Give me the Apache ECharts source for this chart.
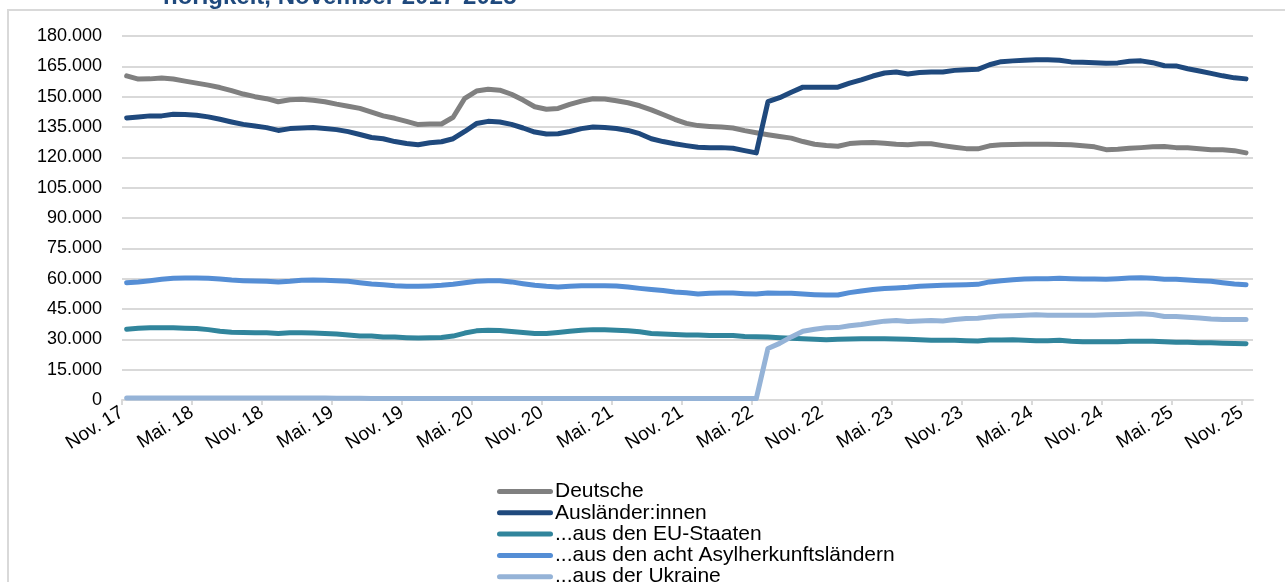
<!DOCTYPE html>
<html lang="de">
<head>
<meta charset="utf-8">
<title>Arbeitslose nach Staatsangehörigkeit</title>
<script src="https://cdn.jsdelivr.net/npm/echarts@6.0.0/dist/echarts.min.js"></script>
<style>
  html, body { margin: 0; padding: 0; background: #fff; }
  #chart { width: 1285px; height: 582px; }
</style>
</head>
<body>
<div id="chart"></div>
<script>
// Monatswerte Nov. 2017 - Nov. 2025 (97 Monate)
var tickLabels = ["Nov. 17", "Mai. 18", "Nov. 18", "Mai. 19", "Nov. 19", "Mai. 20", "Nov. 20", "Mai. 21",
  "Nov. 21", "Mai. 22", "Nov. 22", "Mai. 23", "Nov. 23", "Mai. 24", "Nov. 24", "Mai. 25", "Nov. 25"];

var deutsche = [160300, 158700, 158800, 159200, 158700, 157700, 156700, 155700, 154500, 153000,
  151300, 150000, 149000, 147500, 148500, 148700, 148200, 147500, 146300, 145300,
  144200, 142300, 140500, 139300, 137800, 136200, 136500, 136500, 139800, 149200,
  152800, 153700, 153200, 151200, 148300, 145000, 143800, 144200, 146200, 147800,
  149000, 148800, 148000, 147000, 145500, 143500, 141200, 138800, 136800, 135700,
  135300, 135000, 134500, 133200, 132200, 131200, 130300, 129500, 127800, 126500,
  125800, 125500, 126800, 127200, 127300, 127000, 126500, 126200, 126700, 126700,
  125800, 125000, 124300, 124200, 125700, 126200, 126300, 126500, 126500, 126500,
  126300, 126200, 125700, 125200, 123800, 124000, 124500, 124800, 125200, 125300,
  124800, 124700, 124300, 123800, 123700, 123300, 122200];

var auslaender = [139500, 140000, 140500, 140500, 141300, 141200, 140800, 140000, 138800, 137500,
  136300, 135500, 134700, 133300, 134200, 134500, 134800, 134300, 133700, 132700,
  131300, 129800, 129200, 127800, 126800, 126200, 127200, 127700, 129200, 132800,
  136700, 137800, 137500, 136300, 134500, 132500, 131500, 131700, 132800, 134200,
  135000, 134800, 134300, 133300, 131700, 129200, 127800, 126700, 125800, 125000,
  124800, 124800, 124500, 123300, 122200, 147500, 149500, 152200, 154700, 154700,
  154700, 154700, 156700, 158300, 160200, 161700, 162200, 161200, 162000, 162200,
  162200, 163000, 163300, 163500, 165800, 167300, 167700, 168000, 168300, 168200,
  168000, 167200, 167000, 166800, 166500, 166700, 167500, 167700, 166800, 165300,
  165200, 163800, 162700, 161500, 160300, 159300, 158800];

var euStaaten = [35000, 35500, 35700, 35700, 35700, 35500, 35300, 34800, 34000, 33500,
  33400, 33200, 33200, 32900, 33200, 33200, 33100, 32900, 32600, 32100,
  31700, 31600, 31200, 31100, 30800, 30600, 30800, 30900, 31600, 33100,
  34200, 34500, 34400, 33900, 33400, 32900, 32900, 33400, 34000, 34500,
  34800, 34700, 34500, 34200, 33700, 32900, 32600, 32400, 32200, 32100,
  31900, 31900, 31900, 31400, 31300, 31100, 30800, 30500, 30300, 30000,
  29800, 30000, 30200, 30300, 30300, 30300, 30200, 30000, 29800, 29500,
  29500, 29500, 29300, 29200, 29700, 29700, 29800, 29500, 29300, 29300,
  29500, 29000, 28800, 28800, 28800, 28800, 29000, 29000, 29000, 28800,
  28600, 28500, 28300, 28300, 28100, 28000, 27800];

var asylLaender = [58000, 58400, 59000, 59700, 60200, 60300, 60300, 60200, 59800, 59300,
  59000, 58800, 58700, 58400, 58700, 59200, 59300, 59200, 59000, 58700,
  58000, 57400, 57000, 56500, 56200, 56200, 56400, 56700, 57200, 58000,
  58700, 59000, 59000, 58400, 57500, 56700, 56200, 55900, 56200, 56500,
  56500, 56500, 56400, 55900, 55200, 54600, 54100, 53400, 53000, 52400,
  52800, 52900, 52900, 52600, 52400, 52900, 52800, 52800, 52400, 52100,
  51900, 51900, 53100, 53900, 54600, 55100, 55400, 55700, 56200, 56500,
  56700, 56900, 57000, 57200, 58400, 59000, 59500, 59800, 60000, 60000,
  60200, 60000, 59800, 59800, 59700, 60000, 60300, 60500, 60200, 59700,
  59700, 59300, 59000, 58700, 58000, 57400, 57000];

var ukraine = [1000, 1000, 1000, 1000, 1000, 1000, 1000, 1000, 1000, 1000,
  1000, 1000, 1000, 1000, 1000, 1000, 1000, 1000, 900, 900,
  900, 800, 800, 800, 800, 700, 700, 700, 700, 800,
  800, 800, 800, 800, 800, 800, 800, 800, 800, 800,
  800, 700, 700, 700, 700, 700, 700, 700, 700, 700,
  700, 700, 700, 700, 700, 25500, 28000, 31200, 34000, 35000,
  35700, 35800, 36700, 37300, 38200, 39000, 39300, 38800, 39100, 39300,
  39100, 39800, 40300, 40400, 41100, 41600, 41700, 41900, 42100, 41900,
  41900, 41900, 41900, 41900, 42100, 42300, 42400, 42600, 42300, 41300,
  41300, 40900, 40600, 40100, 39800, 39800, 39800];

var seriesNames = ["Deutsche", "Ausländer:innen", "...aus den EU-Staaten",
  "...aus den acht Asylherkunftsländern", "...aus der Ukraine"];
var seriesColors = ["#808080", "#1f497d", "#31859c", "#558ed5", "#95b3d7"];

// Stichtag liegt etwa Mitte des Monats (Datumsachse)
var stichtag = 0.4;

var tickPos = tickLabels.map(function (l, k) { return k * 6; });

function pairs(arr) {
  return arr.map(function (v, i) { return [i + stichtag, v]; });
}

function tausender(v) {
  return String(v).replace(/\B(?=(\d{3})+(?!\d))/g, ".");
}

var font = "'Liberation Sans', Arial, sans-serif";
// Legenden-Symbol: Linie mit runden Enden
var lineIcon = "path://M2.5,0 H53.5 A2.5,2.5 0 0 1 53.5,5 H2.5 A2.5,2.5 0 0 1 2.5,0 Z";

var chart = echarts.init(document.getElementById("chart"));

var option = {
  animation: false,
  backgroundColor: "#fff",
  color: seriesColors,
  graphic: [
    {
      type: "rect",
      z: -10,
      shape: { x: 8, y: 10, width: 1400, height: 700 },
      style: { fill: "none", stroke: "#d9d9d9", lineWidth: 2 }
    },
    {
      type: "text",
      z: 10,
      style: {
        x: 163,
        y: 9,
        text: "hörigkeit, November 2017-2025",
        font: "bold 24px " + font,
        fill: "#1f497d",
        verticalAlign: "bottom"
      }
    }
  ],
  grid: {
    left: 122,
    right: 32,
    top: 36,
    bottom: 182
  },
  legend: {
    orient: "vertical",
    left: 497,
    top: 481,
    height: 200,
    padding: 0,
    itemWidth: 56,
    itemHeight: 5,
    itemGap: 0.3,
    icon: lineIcon,
    itemStyle: { borderWidth: 0 },
    textStyle: { fontFamily: font, fontSize: 21, color: "#000", lineHeight: 21, padding: [0, 0, 0, -3] },
    data: seriesNames
  },
  xAxis: {
    type: "value",
    min: 0,
    max: 97,
    axisLine: { show: true, lineStyle: { color: "#d9d9d9", width: 2 } },
    axisTick: { show: true, length: 5, customValues: tickPos, lineStyle: { color: "#d9d9d9", width: 2 } },
    splitLine: { show: false },
    axisLabel: {
      customValues: tickPos,
      rotate: 32,
      margin: 11,
      fontFamily: font,
      fontSize: 19,
      color: "#000",
      formatter: function (v) {
        return tickLabels[Math.round(v / 6)] || "";
      }
    }
  },
  yAxis: {
    type: "value",
    min: 0,
    max: 180000,
    interval: 15000,
    axisLine: { show: false },
    axisTick: { show: false },
    splitLine: { lineStyle: { color: "#d9d9d9", width: 2 } },
    axisLabel: {
      margin: 20,
      fontFamily: font,
      fontSize: 18,
      color: "#000",
      formatter: tausender
    }
  },
  series: [deutsche, auslaender, euStaaten, asylLaender, ukraine].map(function (arr, k) {
    return {
      name: seriesNames[k],
      type: "line",
      data: pairs(arr),
      symbol: "none",
      smooth: false,
      lineStyle: { width: 5, color: seriesColors[k], cap: "round", join: "round" },
      emphasis: { disabled: true }
    };
  })
};

chart.setOption(option);
</script>
</body>
</html>
